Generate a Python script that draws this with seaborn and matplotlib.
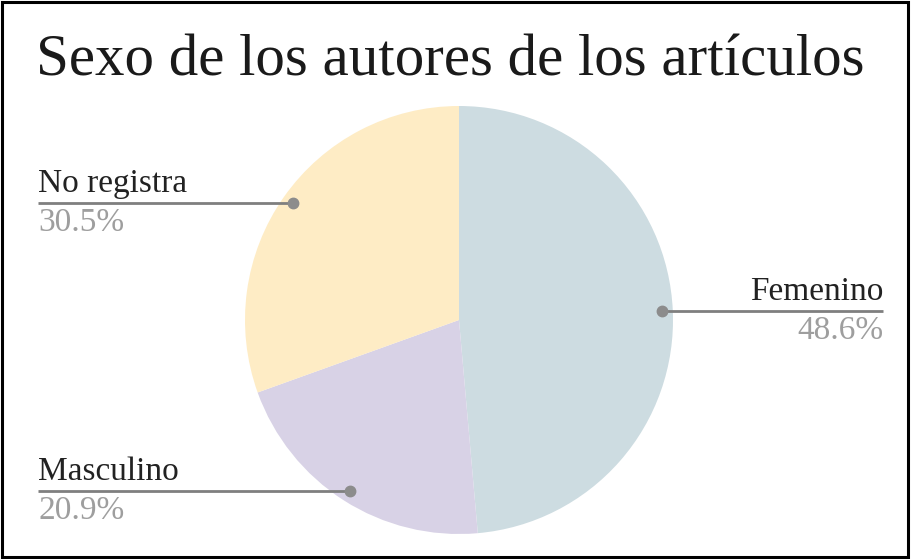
import matplotlib
matplotlib.use("Agg")
import matplotlib.pyplot as plt
import matplotlib.transforms as mtransforms
from matplotlib.patches import Rectangle
import numpy as np
import seaborn as sns

# Data
categories = ["Femenino", "Masculino", "No registra"]
values = [48.6, 20.9, 30.5]
colors = ["#cddce1", "#d8d2e6", "#feecc5"]

sns.set_theme(style="white")
plt.rcParams['font.family'] = ['Liberation Serif', 'DejaVu Serif']

W, H = 913, 559
fig = plt.figure(figsize=(W / 100, H / 100), dpi=100)
fig.patch.set_facecolor("white")

# pie placement: center (459, 320) px from top, radius 214 px
cx, cy, r = 459, 320, 214
ax = fig.add_axes([(cx - r) / W, (H - cy - r) / H, 2 * r / W, 2 * r / H])
wedges, _ = ax.pie(values, colors=colors, startangle=90, counterclock=False,
                   radius=1, wedgeprops=dict(linewidth=0))
ax.set_xlim(-1, 1)
ax.set_ylim(-1, 1)
ax.set_aspect("equal")
ax.axis("off")

fig.text(36 / W, 1 - 76 / H, "Sexo de los autores de los artículos",
         fontsize=42.5, color="#1a1a1a", ha="left", va="baseline")

blend = mtransforms.blended_transform_factory(fig.transFigure, ax.transData)
line_color = "#7f7f7f"
sides = {"Femenino": "right", "Masculino": "left", "No registra": "left"}

for w, cat, val in zip(wedges, categories, values):
    mid = np.deg2rad((w.theta1 + w.theta2) / 2)
    px, py = 0.95 * np.cos(mid), 0.95 * np.sin(mid)
    ax.plot([px], [py], marker="o", markersize=7.5, color="#8c8c8c", zorder=5, clip_on=False)
    fx = (cx + px * r) / W
    if sides[cat] == "right":
        xend = 883 / W
        ha = "right"
    else:
        xend = 38 / W
        ha = "left"
    ax.plot([fx, xend], [py, py], transform=blend, color=line_color, lw=2,
            clip_on=False, zorder=4, solid_capstyle="butt")
    ypx = cy - py * r
    fig.text(xend, 1 - (ypx - 11) / H, cat, fontsize=24, color="#222222",
             ha=ha, va="baseline")
    fig.text(xend, 1 - (ypx + 28) / H, f"{val:.1f}%", fontsize=24,
             color="#9e9e9e", ha=ha, va="baseline")

fig.patches.append(Rectangle((2 / W, 2 / H), 906 / W, 555 / H, transform=fig.transFigure,
                             fill=False, edgecolor="black", linewidth=2.2, figure=fig))

fig.savefig("out.png", dpi=100, facecolor="white")
